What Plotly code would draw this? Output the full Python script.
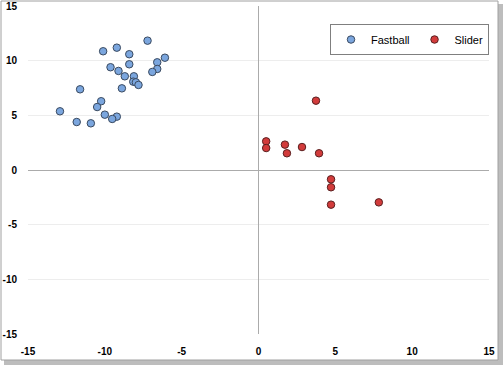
import plotly.graph_objects as go

fastball_x = [-7.22, -9.22, -10.11, -8.41, -6.09, -6.59, -8.41, -9.63, -6.59, -9.11, -6.91, -8.70, -8.11,
              -8.15, -7.98, -7.81, -8.89, -11.61, -10.24, -10.50, -12.92, -10.00, -9.22, -9.52, -11.83, -10.91]
fastball_y = [11.83, 11.19, 10.86, 10.59, 10.27, 9.85, 9.67, 9.40, 9.24, 9.06, 8.97, 8.57, 8.57,
              8.08, 8.02, 7.78, 7.47, 7.38, 6.29, 5.76, 5.37, 5.06, 4.88, 4.67, 4.39, 4.27]
slider_x = [3.74, 0.50, 0.50, 1.72, 1.85, 2.83, 3.94, 4.72, 4.72, 4.72, 7.83]
slider_y = [6.34, 2.62, 2.01, 2.32, 1.53, 2.10, 1.53, -0.85, -1.58, -3.17, -2.96]
tick_vals = [-15, -10, -5, 0, 5, 10, 15]
tick_text = ["-15", "-10", "-5", "0", "5", "10", "15"]

W, H = 504, 366
L, R, T, B = 28, 15, 6, 32
pw, ph = W - L - R, H - T - B

def px(x):
    return (x - L) / pw

def py(y):
    return 1 - (y - T) / ph

fig = go.Figure()
fig.add_trace(go.Scatter(x=fastball_x, y=fastball_y, mode="markers", name="Fastball",
                         marker=dict(size=7.5, color="#7BA6DE", line=dict(color="#3A4A60", width=1))))
fig.add_trace(go.Scatter(x=slider_x, y=slider_y, mode="markers", name="Slider",
                         marker=dict(size=7.5, color="#D23B3B", line=dict(color="#5A2020", width=1))))

tickfont = dict(family="Liberation Sans", size=10, color="#000000", weight="bold")
fig.update_layout(
    width=W, height=H,
    margin=dict(l=L, r=R, t=T, b=B, autoexpand=False),
    paper_bgcolor="white", plot_bgcolor="rgba(0,0,0,0)",
    showlegend=True,
    legend=dict(orientation="h", x=px(489), y=py(24), xanchor="right", yanchor="top",
                bordercolor="#7F7F7F", borderwidth=1, bgcolor="white",
                font=dict(family="Liberation Sans", size=11, color="#000"),
                itemsizing="trace", itemwidth=30, tracegroupgap=0),
    xaxis=dict(range=[-15, 15], tickvals=tick_vals, ticktext=tick_text, showgrid=False, zeroline=True,
               zerolinecolor="#ABABAB", zerolinewidth=1.3, ticks="outside", ticklen=8,
               tickcolor="rgba(0,0,0,0)", tickfont=tickfont, showline=False, fixedrange=True),
    yaxis=dict(range=[-15, 15], tickvals=tick_vals, ticktext=tick_text, showgrid=True, gridcolor="#EDEDED",
               zeroline=True, zerolinecolor="#ABABAB", zerolinewidth=1.3, ticks="outside",
               ticklen=8, tickcolor="rgba(0,0,0,0)", tickfont=tickfont, showline=False, fixedrange=True),
    shapes=[
        dict(type="rect", xref="paper", yref="paper", x0=px(4), x1=px(503), y0=py(365), y1=py(4),
             line=dict(width=0), fillcolor="#BDBDBD", layer="below"),
        dict(type="rect", xref="paper", yref="paper", x0=px(1), x1=px(498), y0=py(360), y1=py(1),
             line=dict(color="#A0A0A0", width=1), fillcolor="white", layer="below"),
    ],
)
fig.write_html("out.html", config={"displayModeBar": False},
               post_script="document.body.style.margin='0';document.body.style.overflow='hidden';")
